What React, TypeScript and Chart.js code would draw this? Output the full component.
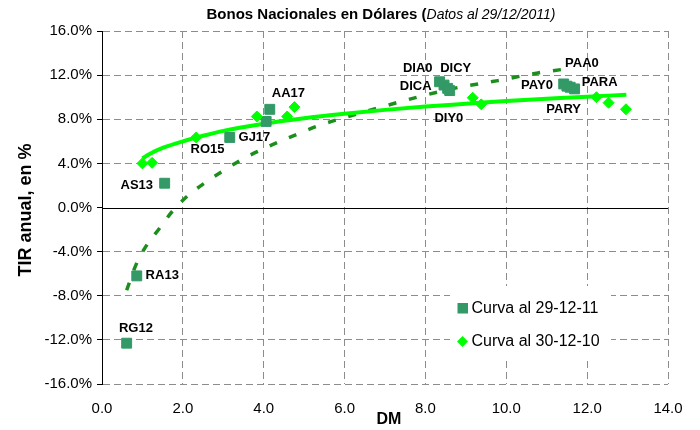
import React, { useEffect, useRef } from "react";
import { Chart, registerables } from "chart.js";

Chart.register(...registerables);

// ---------- data ----------
const titleBold = "Bonos Nacionales en Dólares (";
const titleItalic = "Datos al 29/12/2011)";
const xAxisTitle = "DM";
const yAxisTitle = "TIR anual, en %";

const series2011Name = "Curva al 29-12-11";
const series2010Name = "Curva al 30-12-10";

// Curva al 29-12-11 (squares)
const dm2011 = [0.61, 0.86, 1.55, 3.16, 4.06, 4.15, 8.35, 8.46, 8.55, 8.6, 11.42, 11.5, 11.58, 11.69];
const tir2011 = [-12.3, -6.2, 2.2, 6.35, 7.8, 8.9, 11.4, 11.1, 10.8, 10.6, 11.2, 11.0, 10.9, 10.75];

// Curva al 30-12-10 (diamonds)
const dm2010 = [1.0, 1.24, 2.33, 3.83, 4.58, 4.76, 9.17, 9.38, 12.23, 12.53, 12.96];
const tir2010 = [4.0, 4.05, 6.35, 8.25, 8.25, 9.1, 9.95, 9.35, 10.0, 9.5, 8.9];

// trend curve 30-12-10 (solid)
const trend2010Dm = [1.0, 1.2, 1.5, 2.0, 2.5, 3.0, 4.0, 5.0, 6.0, 7.0, 8.0, 9.0, 10.0, 11.0, 12.0, 12.97];
const trend2010Tir = [4.45, 4.9, 5.4, 6.0, 6.5, 6.95, 7.6, 8.1, 8.5, 8.85, 9.15, 9.4, 9.65, 9.85, 10.05, 10.22];

// trend curve 29-12-11 (dotted)
const trend2011Dm = [0.61, 0.84, 1.09, 1.42, 1.75, 2.1, 2.53, 3.03, 3.48, 3.98, 4.47, 4.93, 5.42, 6.0, 6.9, 7.85, 8.84, 9.79, 10.78, 11.35];
const trend2011Tir = [-7.5, -5.2, -3.5, -1.9, -0.3, 1.0, 2.2, 3.4, 4.4, 5.3, 6.1, 6.8, 7.5, 8.15, 9.1, 10.05, 10.9, 11.5, 12.2, 12.5];

// bond labels (text placed at these DM / TIR coordinates)
const labelTexts = ["RG12", "RA13", "AS13", "RO15", "GJ17", "AA17", "DIA0", "DICY", "DICA", "DIY0", "PAA0", "PAY0", "PARA", "PARY"];
const labelDm = [0.84, 1.49, 0.86, 2.61, 3.77, 4.61, 7.81, 8.75, 7.76, 8.58, 11.87, 10.76, 12.31, 11.42];
const labelTir = [-11.0, -6.19, 2.03, 5.23, 6.38, 10.37, 12.57, 12.64, 10.97, 8.1, 13.09, 11.06, 11.37, 8.86];

const xMin = 0, xMax = 14, xStep = 2;
const yMin = -16, yMax = 16, yStep = 4;

// ---------- styles ----------
const FONT = "'Liberation Sans', Arial, sans-serif";
const SQUARE = "#339966";
const DIAMOND = "#00FF00";
const DOTTED = "#1B8E1B";
const GRID = "#8C8C8C";

const zip = (xs: number[], ys: number[]) => xs.map((x, i) => ({ x, y: ys[i] }));

const overlayPlugin = {
  id: "overlay",
  beforeDatasetsDraw(chart: any) {
    const { ctx, chartArea, scales } = chart;
    const y0 = Math.round(scales.y.getPixelForValue(0)) + 0.5;
    ctx.save();
    ctx.strokeStyle = "#000";
    ctx.lineWidth = 1;
    ctx.beginPath();
    ctx.moveTo(chartArea.left, y0);
    ctx.lineTo(chartArea.right, y0);
    ctx.stroke();
    ctx.restore();
  },
  afterDatasetsDraw(chart: any) {
    const { ctx, scales } = chart;
    ctx.save();
    ctx.fillStyle = "#000";
    ctx.font = `bold 13px ${FONT}`;
    ctx.textAlign = "center";
    ctx.textBaseline = "middle";
    labelTexts.forEach((t, i) => {
      ctx.fillText(t, scales.x.getPixelForValue(labelDm[i]), scales.y.getPixelForValue(labelTir[i]));
    });
    ctx.restore();
  },
  afterDraw(chart: any) {
    const { ctx } = chart;
    ctx.save();
    // title
    ctx.fillStyle = "#000";
    ctx.textBaseline = "middle";
    ctx.textAlign = "left";
    ctx.font = `bold 15px ${FONT}`;
    const wb = ctx.measureText(titleBold).width;
    ctx.font = `italic 14px ${FONT}`;
    const wi = ctx.measureText(titleItalic).width;
    const tx = 381 - (wb + wi) / 2;
    ctx.font = `bold 15px ${FONT}`;
    ctx.fillText(titleBold, tx, 15);
    ctx.font = `italic 14px ${FONT}`;
    ctx.fillText(titleItalic, tx + wb, 15);

    // axis titles
    ctx.textAlign = "center";
    ctx.font = `bold 16px ${FONT}`;
    ctx.fillText(xAxisTitle, 389, 420);
    ctx.save();
    ctx.translate(26, 210);
    ctx.rotate(-Math.PI / 2);
    ctx.font = `bold 18px ${FONT}`;
    ctx.fillText(yAxisTitle, 0, 0);
    ctx.restore();

    // legend
    ctx.fillStyle = "#fff";
    ctx.fillRect(450, 286, 161, 71);
    ctx.fillStyle = SQUARE;
    ctx.fillRect(457.5, 303, 10.5, 10.5);
    ctx.fillStyle = DIAMOND;
    ctx.beginPath();
    ctx.moveTo(462.5, 336);
    ctx.lineTo(468, 341.5);
    ctx.lineTo(462.5, 347);
    ctx.lineTo(457, 341.5);
    ctx.closePath();
    ctx.fill();
    ctx.fillStyle = "#000";
    ctx.textAlign = "left";
    ctx.font = `16px ${FONT}`;
    ctx.fillText(series2011Name, 471.5, 309);
    ctx.fillText(series2010Name, 471.5, 342);
    ctx.restore();
  },
};

export default function App() {
  const ref = useRef<HTMLCanvasElement>(null);

  useEffect(() => {
    if (!ref.current) return;
    const chart = new Chart(ref.current, {
      type: "scatter",
      data: {
        datasets: [
          {
            label: series2010Name,
            data: zip(dm2010, tir2010),
            pointStyle: "rectRot",
            pointRadius: 5.5,
            borderWidth: 1,
            backgroundColor: DIAMOND,
            borderColor: DIAMOND,
            showLine: false,
            order: 1,
          },
          {
            label: series2011Name,
            data: zip(dm2011, tir2011),
            pointStyle: "rect",
            pointRadius: 7,
            borderWidth: 1,
            backgroundColor: SQUARE,
            borderColor: SQUARE,
            showLine: false,
            order: 2,
          },
          {
            label: "trend 2010",
            data: zip(trend2010Dm, trend2010Tir),
            showLine: true,
            pointRadius: 0,
            borderColor: DIAMOND,
            borderWidth: 4,
            cubicInterpolationMode: "monotone",
            order: 3,
          },
          {
            label: "trend 2011",
            data: zip(trend2011Dm, trend2011Tir),
            showLine: true,
            pointRadius: 0,
            borderColor: DOTTED,
            borderWidth: 3.5,
            borderDash: [8, 13],
            borderCapStyle: "butt",
            cubicInterpolationMode: "monotone",
            order: 4,
          },
        ],
      },
      options: {
        responsive: false,
        animation: false,
        layout: { autoPadding: false, padding: { top: 31, right: 32, left: 0, bottom: 0 } },
        plugins: {
          legend: { display: false },
          title: { display: false },
          tooltip: { enabled: false },
        },
        scales: {
          x: {
            type: "linear",
            min: xMin,
            max: xMax,
            afterFit: (s: any) => { s.height = 46; },
            ticks: {
              stepSize: xStep,
              color: "#000",
              font: { family: FONT, size: 15 },
              padding: 16,
              callback: (v: any) => Number(v).toFixed(1),
            },
            grid: {
              drawTicks: false,
              color: (c: any) => (c.tick && c.tick.value === 0 ? "rgba(0,0,0,0)" : GRID),
            },
            border: { display: false, dash: [7, 4] },
          },
          y: {
            type: "linear",
            min: yMin,
            max: yMax,
            afterFit: (s: any) => { s.width = 102; },
            ticks: {
              stepSize: yStep,
              color: "#000",
              font: { family: FONT, size: 15 },
              padding: 5,
              callback: (v: any) => Number(v).toFixed(1) + "%",
            },
            grid: {
              drawTicks: true,
              tickLength: 5,
              tickColor: "#000",
              color: (c: any) => (c.tick && c.tick.value === 0 ? "rgba(0,0,0,0)" : GRID),
            },
            border: { display: true, color: "#000", width: 1, dash: [7, 4] },
          },
        },
      },
      plugins: [overlayPlugin],
    } as any);
    return () => chart.destroy();
  }, []);

  return (
    <div style={{ position: "absolute", left: 0, top: 0, width: 700, height: 430, background: "#fff" }}>
      <canvas ref={ref} width={700} height={430} style={{ display: "block" }} />
    </div>
  );
}
